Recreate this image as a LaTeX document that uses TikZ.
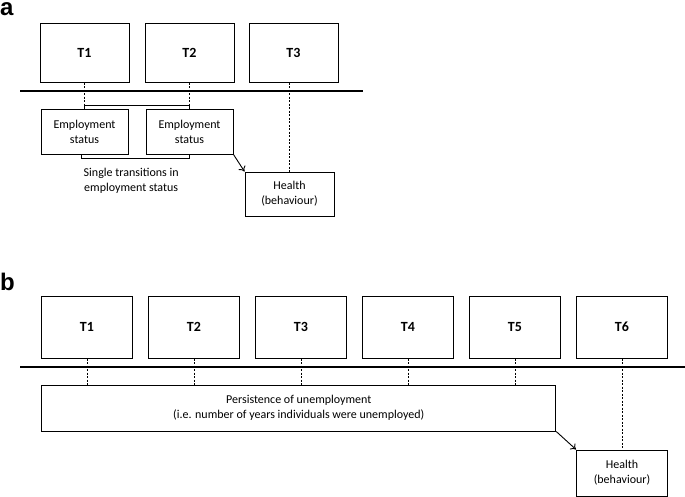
\documentclass[tikz,border=0pt]{standalone}
\usepackage{fontspec}
\setmainfont{Carlito}
\newfontfamily\panelfont{Liberation Sans}
\usetikzlibrary{arrows.meta, positioning}

\begin{document}
\begin{tikzpicture}[
    x=1pt, y=-1pt,
    font=\fontsize{12}{15}\selectfont,
    >={To[length=5pt, width=8pt]},
    % Estilos de bloques
    tbox/.style={
        rectangle,
        draw,
        line width=1pt,
        minimum width=89pt,
        minimum height=59pt,
        inner sep=0pt,
        font=\fontsize{14}{17}\selectfont\bfseries
    },
    infobox/.style={
        rectangle,
        draw,
        line width=1pt,
        minimum width=87pt,
        minimum height=45pt,
        inner sep=0pt,
        align=center
    },
    timeline/.style={
        draw,
        line width=1.2pt
    },
    link/.style={
        draw,
        line width=0.8pt,
        dash pattern=on 2pt off 1.5pt
    },
    bracket/.style={
        draw,
        line width=1pt
    },
    flow/.style={
        draw,
        ->,
        line width=0.9pt
    },
    panellabel/.style={
        anchor=base west,
        inner sep=0pt,
        font=\panelfont\fontsize{24}{28}\selectfont\bfseries
    }
]
    \useasboundingbox (0,0) rectangle (685,496);

    % ==========================================
    % PANEL a
    % ==========================================
    \node[panellabel] (lbla) at (0,15.5) {a};

    \node[tbox] (aT1) at (84.5,52.5) {T1};
    \node[tbox, right=15pt of aT1] (aT2) {T2};
    \node[tbox, right=14pt of aT2] (aT3) {T3};

    % Linea de tiempo
    \coordinate (aL) at (20,91);
    \coordinate (aR) at (363,91);
    \path[timeline] (aL) -- (aR);

    % Estados de empleo
    \node[infobox, below=26pt of aT1] (es1) {Employment\\status};
    \node[infobox, below=26pt of aT2] (es2) {Employment\\status};

    % Salud
    \node[infobox, below=89pt of aT3, xshift=-4pt, minimum width=89pt, minimum height=44pt] (aH) {Health\\(behaviour)};

    % Conexiones
    \path[link] (aT1.south) -- ([yshift=3pt]es1.north);
    \path[link] (aT2.south) -- ([yshift=3pt]es2.north);
    \path[link] (aT3.south -| aH.north) -- (aH.north);
    \path[bracket] (es1.north) -- ++(0,-3) -| (es2.north);
    \path[bracket] ([xshift=-3pt]es1.south) -- ++(0,4)
        -| node[pos=0.23, below=6pt, align=center] (trans) {Single transitions in\\employment status}
        (es2.south);
    \path[flow] (es2.south east) -- (aH.north west);

    % ==========================================
    % PANEL b
    % ==========================================
    \node[panellabel] (lblb) at (0,290) {b};

    \node[tbox, minimum width=90.5pt, minimum height=62pt] (bT1) at (87,327) {T1};
    \node[tbox, minimum width=90.5pt, minimum height=62pt, right=15.5pt of bT1] (bT2) {T2};
    \node[tbox, minimum width=90.5pt, minimum height=62pt, right=15.5pt of bT2] (bT3) {T3};
    \node[tbox, minimum width=90.5pt, minimum height=62pt, right=15.5pt of bT3] (bT4) {T4};
    \node[tbox, minimum width=90.5pt, minimum height=62pt, right=15.5pt of bT4] (bT5) {T5};
    \node[tbox, minimum width=90.5pt, minimum height=62pt, right=15.5pt of bT5] (bT6) {T6};

    % Linea de tiempo
    \coordinate (bL) at (20,367);
    \coordinate (bR) at (685,367);
    \path[timeline] (bL) -- (bR);

    % Persistencia
    \node[infobox, below=26pt of bT1.south west, anchor=north west, minimum width=514pt, minimum height=46pt] (pers)
        {Persistence of unemployment\\(i.e. number of years individuals were unemployed)};

    % Salud
    \node[infobox, below=91pt of bT6, minimum width=91pt, minimum height=46pt] (bH) {Health\\(behaviour)};

    % Conexiones
    \path[link] (bT1.south) -- (bT1.south |- pers.north);
    \path[link] (bT2.south) -- (bT2.south |- pers.north);
    \path[link] (bT3.south) -- (bT3.south |- pers.north);
    \path[link] (bT4.south) -- (bT4.south |- pers.north);
    \path[link] (bT5.south) -- (bT5.south |- pers.north);
    \path[link] (bT6.south) -- (bH.north);
    \path[flow] (pers.south east) -- (bH.north west);

\end{tikzpicture}
\end{document}
